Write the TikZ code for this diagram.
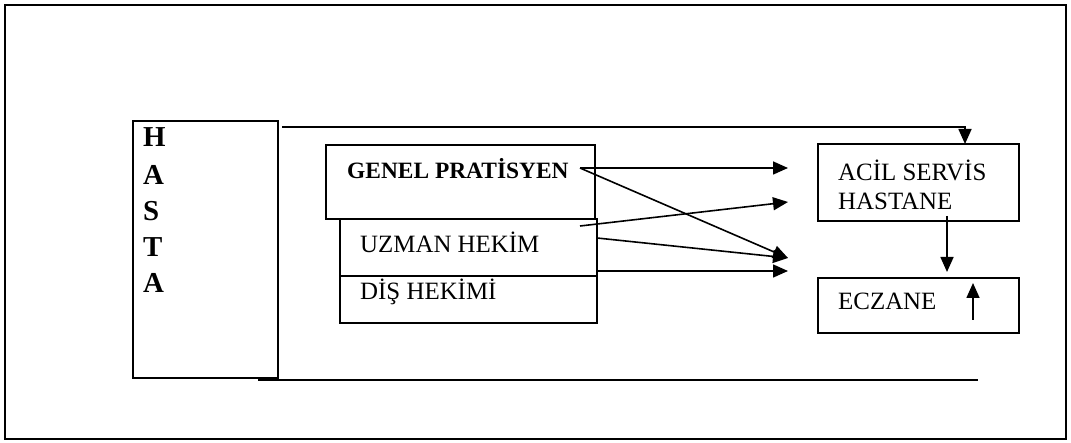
\documentclass[tikz,border=0pt]{standalone}
\usepackage{fontspec}
\setmainfont{Liberation Serif}
\usetikzlibrary{arrows.meta}
\begin{document}
\begin{tikzpicture}[x=1bp,y=-1bp,
  box/.style={draw, line width=1.7bp, inner sep=0, rectangle},
  lbl/.style={anchor=base west, inner sep=0, font=\fontsize{25}{30}\selectfont},
  boldlbl/.style={anchor=base west, inner sep=0, font=\fontsize{23.5}{28}\selectfont\bfseries},
  letter/.style={anchor=base west, inner sep=0, font=\fontsize{29}{34}\selectfont\bfseries},
  link/.style={line width=1.6bp},
  arr/.style={line width=1.6bp, -{Triangle[length=15bp,width=13bp]}}]
\useasboundingbox (0,0) rectangle (1071,443);
% outer frame
\draw[line width=2bp] (5,5) rectangle (1066,439);

% boxes
\node[box, minimum width=145bp, minimum height=257bp] (hasta) at (205.5,249.5) {};
\node[box, minimum width=269bp, minimum height=74bp] (gp) at (460.5,182) {};
\node[box, minimum width=257bp, minimum height=57bp] (uz) at (468.5,247.5) {};
\node[box, minimum width=257bp, minimum height=47bp] (dis) at (468.5,299.5) {};
\node[box, minimum width=201bp, minimum height=77bp] (acil) at (918.5,182.5) {};
\node[box, minimum width=201bp, minimum height=55bp] (ecz) at (918.5,305.5) {};

% vertical HASTA lettering
\node[letter] (h1) at (143,147) {H};
\node[letter] (h2) at (143,185) {A};
\node[letter] (h3) at (143,221) {S};
\node[letter] (h4) at (143,257) {T};
\node[letter] (h5) at (143,293) {A};

% box labels
\node[boldlbl] (tgp) at (347,179) {GENEL PRATİSYEN};
\node[lbl] (tuz) at (360,253) {UZMAN HEKİM};
\node[lbl] (tdis) at (360,300) {DİŞ HEKİMİ};
\node[lbl] (tacil) at (838,181) {ACİL SERVİS};
\node[lbl] (thast) at (838,210) {HASTANE};
\node[lbl] (tecz) at (838,310) {ECZANE};

% connector end points
\coordinate (hs) at (282,127);
\coordinate (acin) at (965,144);
\coordinate (hb) at (258,380);
\coordinate (he) at (978,380);
\coordinate (gpo) at (580,168);
\coordinate (uz1) at (580,226);
\coordinate (uz2) at (597,238);
\coordinate (uz3) at (597,271);
\coordinate (t1) at (788,168);
\coordinate (t2) at (788,202);
\coordinate (t3) at (788,258);
\coordinate (t4) at (788,271);
\coordinate (acb) at (947,216);
\coordinate (ect) at (947,272);
\coordinate (eu1) at (973,320);
\coordinate (eu2) at (973,283);

% connectors
\draw[arr] (hs) -| (acin);
\draw[link] (hb) -- (he);
\draw[arr] (gpo) -- (t1);
\draw[arr] (gpo) -- (t3);
\draw[arr] (uz1) -- (t2);
\draw[arr] (uz2) -- (t3);
\draw[arr] (uz3) -- (t4);
\draw[arr] (acb) -- (ect);
\draw[arr] (eu1) -- (eu2);
\end{tikzpicture}
\end{document}
